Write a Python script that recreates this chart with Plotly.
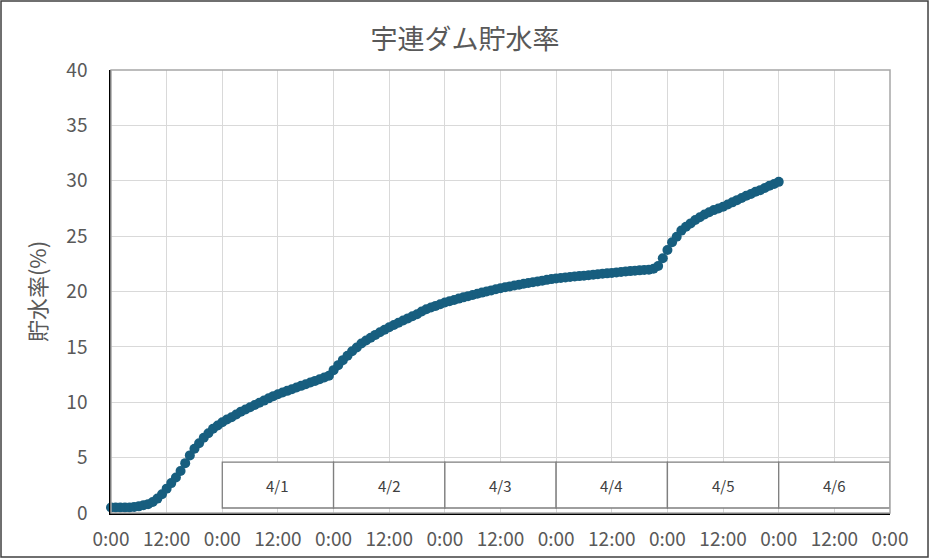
import pandas as pd
import plotly.graph_objects as go

# ---- data ----
start_time = "2023-03-31 00:00"
storage_rate = [
    # 3/31
    0.5, 0.5, 0.5, 0.5, 0.5, 0.55, 0.6, 0.7, 0.8, 1.0, 1.3, 1.7,
    2.2, 2.7, 3.2, 3.8, 4.5, 5.2, 5.8, 6.3, 6.8, 7.2, 7.6, 7.9,
    # 4/1
    8.2, 8.45, 8.65, 8.9, 9.15, 9.35, 9.55, 9.75, 9.95, 10.15, 10.35, 10.55,
    10.72, 10.88, 11.03, 11.18, 11.33, 11.48, 11.63, 11.78, 11.93, 12.08, 12.23, 12.4,
    # 4/2
    12.9, 13.35, 13.8, 14.2, 14.6, 14.95, 15.3, 15.57, 15.83, 16.08, 16.32, 16.55,
    16.77, 16.98, 17.18, 17.38, 17.57, 17.76, 17.94, 18.2, 18.4, 18.55, 18.7, 18.85,
    # 4/3
    19.0, 19.12, 19.24, 19.36, 19.47, 19.58, 19.69, 19.8, 19.9, 20.0, 20.1, 20.2,
    20.3, 20.38, 20.46, 20.54, 20.62, 20.7, 20.77, 20.84, 20.91, 20.98, 21.05, 21.12,
    # 4/4
    21.18, 21.22, 21.27, 21.31, 21.35, 21.39, 21.43, 21.47, 21.52, 21.56, 21.6, 21.64,
    21.68, 21.72, 21.76, 21.8, 21.84, 21.88, 21.91, 21.94, 21.97, 22.05, 22.3, 23.0,
    # 4/5
    23.75, 24.45, 24.95, 25.5, 25.85, 26.15, 26.45, 26.7, 26.95, 27.15, 27.35, 27.5,
    27.65, 27.85, 28.05, 28.25, 28.45, 28.65, 28.8, 29.0, 29.15, 29.35, 29.55, 29.7,
    # 4/6 0:00
    29.9,
]
times = pd.date_range(start_time, periods=len(storage_rate), freq="h")

tick_times = pd.date_range("2023-03-31 00:00", "2023-04-07 00:00", freq="12h")
tick_labels = ["0:00", "12:00", "0:00", "12:00", "0:00", "12:00", "0:00", "12:00",
               "0:00", "12:00", "0:00", "12:00", "0:00", "12:00", "0:00"]

day_labels = ["4/1", "4/2", "4/3", "4/4", "4/5", "4/6"]
day_starts = ["2023-04-01", "2023-04-02", "2023-04-03", "2023-04-04", "2023-04-05", "2023-04-06"]
day_ends = ["2023-04-02", "2023-04-03", "2023-04-04", "2023-04-05", "2023-04-06", "2023-04-07"]
day_centers = ["2023-04-01 12:00", "2023-04-02 12:00", "2023-04-03 12:00",
               "2023-04-04 12:00", "2023-04-05 12:00", "2023-04-06 12:00"]
box_bottom, box_top, box_mid = 0.45, 4.6, 2.5

title_text = "宇連ダム貯水率"
y_title = "貯水率(%)"

FONT = "Noto Sans CJK JP"
TXT = "#595959"

fig = go.Figure()
fig.add_trace(go.Scatter(
    x=times, y=storage_rate, mode="markers",
    marker=dict(size=10, color="#175e7f", line=dict(width=0)),
    cliponaxis=False, showlegend=False,
))

shapes = []
for s, e in zip(day_starts, day_ends):
    shapes.append(dict(type="rect", xref="x", yref="y", x0=s, x1=e,
                       y0=box_bottom, y1=box_top,
                       line=dict(color="#7f7f7f", width=1.3),
                       fillcolor="white", layer="above"))
# plot area border (gray)
shapes.append(dict(type="rect", xref="paper", yref="paper", x0=0, x1=1, y0=0, y1=1,
                   line=dict(color="#a6a6a6", width=1.5), layer="above"))
# outer chart border
shapes.append(dict(type="rect", xref="paper", yref="paper",
                   x0=-0.1412, x1=1.0488, y0=-0.0993, y1=1.1558,
                   line=dict(color="#404040", width=1.5), layer="above"))

annotations = [dict(x=c, y=box_mid, xref="x", yref="y", text=t, showarrow=False,
                    font=dict(family=FONT, size=15, color="#404040"))
               for c, t in zip(day_centers, day_labels)]

fig.update_layout(
    width=930, height=560,
    margin=dict(l=111, r=40, t=70, b=47),
    paper_bgcolor="white", plot_bgcolor="white",
    title=dict(text=title_text, x=0.5, xanchor="center", y=1 - 40 / 560, yanchor="middle",
               font=dict(family=FONT, size=27, color=TXT)),
    font=dict(family=FONT, color=TXT),
    shapes=shapes, annotations=annotations,
)
fig.update_xaxes(
    range=["2023-03-31 00:00", "2023-04-07 00:00"],
    tickvals=tick_times, ticktext=tick_labels,
    tickfont=dict(family=FONT, size=19, color=TXT),
    showgrid=True, gridcolor="#d9d9d9", gridwidth=1,
    showline=True, linecolor="#000000", linewidth=1.5,
    ticks="", ticklabelstandoff=8, zeroline=False, automargin=False,
)
fig.update_yaxes(
    range=[0, 40], tickvals=[0, 5, 10, 15, 20, 25, 30, 35, 40],
    tickfont=dict(family=FONT, size=19, color=TXT),
    showgrid=True, gridcolor="#d9d9d9", gridwidth=1,
    showline=True, linecolor="#000000", linewidth=1.5,
    ticks="", ticklabelstandoff=18, zeroline=False, automargin=False,
    title=dict(text=y_title, font=dict(family=FONT, size=22, color=TXT), standoff=14),
)

fig.write_html("out.html", config={"displayModeBar": False},
               post_script="document.body.style.margin='0px';")
